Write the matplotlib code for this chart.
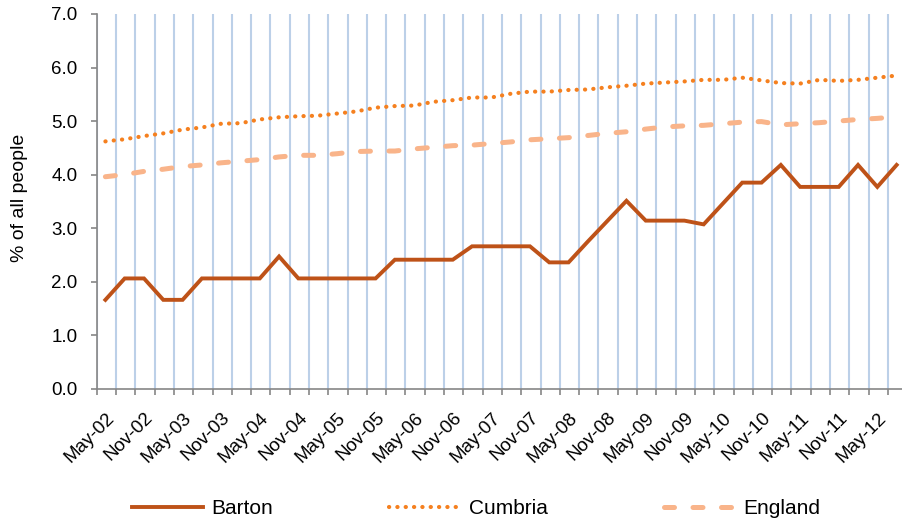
import matplotlib
matplotlib.use('Agg')
import matplotlib.pyplot as plt
from matplotlib.transforms import ScaledTranslation
import numpy as np

plt.rcParams['font.family'] = ['Liberation Sans', 'DejaVu Sans']

# quarterly series, May-02 .. Aug-12
barton = [1.66, 2.06, 2.06, 1.66, 1.66, 2.06, 2.06, 2.06, 2.06, 2.47,
          2.06, 2.06, 2.06, 2.06, 2.06, 2.41, 2.41, 2.41, 2.41, 2.66,
          2.66, 2.66, 2.66, 2.36, 2.36, 2.75, 3.13, 3.51, 3.14, 3.14,
          3.14, 3.07, 3.46, 3.85, 3.85, 4.18, 3.77, 3.77, 3.77, 4.18,
          3.77, 4.18]
cumbria = [4.62, 4.66, 4.72, 4.77, 4.84, 4.88, 4.95, 4.96, 5.03, 5.07,
           5.09, 5.10, 5.14, 5.18, 5.25, 5.28, 5.29, 5.36, 5.39, 5.44,
           5.44, 5.51, 5.55, 5.55, 5.58, 5.59, 5.63, 5.66, 5.70, 5.72,
           5.74, 5.77, 5.77, 5.81, 5.76, 5.71, 5.70, 5.77, 5.75, 5.77,
           5.81, 5.85]
england = [3.96, 4.00, 4.06, 4.10, 4.15, 4.18, 4.22, 4.25, 4.28, 4.33,
           4.36, 4.36, 4.39, 4.43, 4.44, 4.44, 4.48, 4.51, 4.54, 4.55,
           4.58, 4.61, 4.65, 4.67, 4.69, 4.73, 4.77, 4.80, 4.85, 4.89,
           4.91, 4.92, 4.95, 4.98, 4.99, 4.93, 4.95, 4.97, 5.00, 5.03,
           5.05, 5.08]
tick_labels = ['May-02', '', 'Nov-02', '', 'May-03', '', 'Nov-03', '',
               'May-04', '', 'Nov-04', '', 'May-05', '', 'Nov-05', '',
               'May-06', '', 'Nov-06', '', 'May-07', '', 'Nov-07', '',
               'May-08', '', 'Nov-08', '', 'May-09', '', 'Nov-09', '',
               'May-10', '', 'Nov-10', '', 'May-11', '', 'Nov-11', '',
               'May-12', '']

x = np.arange(len(barton)) + 0.45  # points sit inside each quarter

fig = plt.figure(figsize=(9.03, 5.26), dpi=100)
ax = fig.add_axes([0.1071, 0.2610, 0.8929, 0.7124])

ax.plot(x, barton, color='#BE5218', lw=2.8, solid_joinstyle='miter', label='Barton')
ax.plot(x, cumbria, color='#F5801F', lw=3.0, linestyle=(0, (0.05, 1.95)),
        dash_capstyle='round', label='Cumbria')
ax.plot(x, england, color='#F9B48A', lw=3.6, linestyle=(0, (2.0, 3.7)),
        dash_capstyle='round', label='England')

ax.set_xlim(0, 41.78)
ax.set_ylim(0, 7)
ax.set_yticks(np.arange(0, 7.5, 1.0))
ax.set_yticklabels(['%.1f' % v for v in np.arange(0, 7.5, 1.0)])
ax.set_xticks(range(len(tick_labels)))
ax.set_xticklabels(tick_labels, rotation=45, ha='right', va='center',
                   rotation_mode='anchor')

ax.set_axisbelow(True)
ax.grid(axis='x', color='#BCD0E8', lw=1.5)
for s in ['top', 'right']:
    ax.spines[s].set_visible(False)
for s in ['left', 'bottom']:
    ax.spines[s].set_color('#868686')
    ax.spines[s].set_linewidth(1.2)
ax.tick_params(axis='both', colors='#868686', width=1.2, length=4,
               labelcolor='black', labelsize=13.5)
ax.tick_params(axis='y', pad=10)
ax.tick_params(axis='x', pad=0)

off = ScaledTranslation(0.15, -0.21, fig.dpi_scale_trans)
for lab in ax.get_xticklabels():
    lab.set_transform(lab.get_transform() + off)

fig.text(20 / 903, 1 - 198 / 526, '% of all people', rotation=90,
         ha='center', va='center', fontsize=14)

ax.legend(loc='center', bbox_to_anchor=(476 / 903, 1 - 509 / 526),
          bbox_transform=fig.transFigure, ncol=3, frameon=False,
          fontsize=15, handlelength=3.4, handletextpad=0.4,
          columnspacing=5.6)

fig.savefig('out.png', dpi=100)
